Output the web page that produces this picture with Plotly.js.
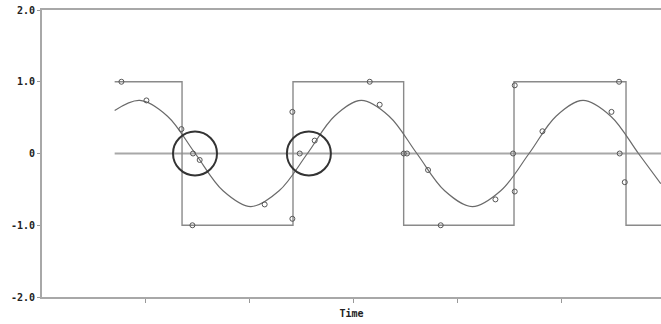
<!DOCTYPE html>
<html>
<head>
<meta charset="utf-8">
<script src="https://cdn.plot.ly/plotly-3.0.1.min.js"></script>
<style>
  html, body { margin: 0; padding: 0; background: #fff; }
  #chart { width: 661px; height: 324px; }
</style>
</head>
<body>
<div id="chart"></div>
<script>
// Square wave: step levels held from each switching time
const squareTimes  = [0.70, 1.349, 2.418, 3.484, 4.547, 5.626, 6.0];
const squareLevels = [1, -1, 1, -1, 1, -1, -1];

// Reference (zero) level
const zeroTimes  = [0.70, 6.0];
const zeroLevels = [0, 0];

// Fundamental sinusoid, read at eighth-period steps
const sineTimes = [0.700, 0.942, 1.209, 1.476, 1.744, 2.012, 2.284, 2.557, 2.817, 3.077,
                   3.344, 3.611, 3.879, 4.146, 4.419, 4.692, 4.952, 5.212, 5.479, 5.746, 5.961];
const sineValues = [0.60, 0.74, 0.52, 0, -0.52, -0.74, -0.52, 0, 0.52, 0.74,
                    0.52, 0, -0.52, -0.74, -0.52, 0, 0.52, 0.74, 0.52, 0, -0.42];

// Sample points marked along the signals
const sampleTimes = [0.765, 1.006, 1.343, 1.455, 1.519, 1.449, 2.145, 2.412, 2.412, 2.483,
                     2.627, 3.157, 3.253, 3.485, 3.516, 3.719, 3.841, 4.368, 4.554, 4.538,
                     4.554, 4.821, 5.486, 5.559, 5.565, 5.614];
const sampleValues = [1.0, 0.74, 0.34, 0, -0.09, -1.0, -0.71, -0.91, 0.58, 0,
                      0.18, 1.0, 0.68, 0, 0, -0.23, -1.0, -0.64, -0.53, 0,
                      0.95, 0.31, 0.58, 1.0, 0, -0.40];

// Highlighted zero crossings
const ringTimes  = [1.474, 2.571];
const ringValues = [0, 0];

// Axis labels
const yTickVals = [-2, -1, 0, 1, 2];
const yTickText = ["-2.0", "-1.0", "0", "1.0", "2.0"];
const xTickVals = [1, 2, 3, 4, 5];
const xTitle = "Time";

const traces = [
  {
    x: zeroTimes, y: zeroLevels, mode: "lines", type: "scatter",
    line: { color: "#a8a8a8", width: 2.2 }, hoverinfo: "skip"
  },
  {
    x: squareTimes, y: squareLevels, mode: "lines", type: "scatter",
    line: { color: "#8a8a8a", width: 1.4, shape: "hv" }, hoverinfo: "skip"
  },
  {
    x: sineTimes, y: sineValues, mode: "lines", type: "scatter",
    line: { color: "#6a6a6a", width: 1.2, shape: "spline", smoothing: 1 }, hoverinfo: "skip"
  },
  {
    x: sampleTimes, y: sampleValues, mode: "markers", type: "scatter",
    marker: { symbol: "circle-open", size: 5, color: "#555", line: { width: 1, color: "#555" } },
    hoverinfo: "skip"
  },
  {
    x: ringTimes, y: ringValues, mode: "markers", type: "scatter",
    marker: { symbol: "circle-open", size: 44, color: "#333", line: { width: 2, color: "#333" } },
    hoverinfo: "skip"
  }
];

const tickFont = { family: "DejaVu Sans Mono, monospace", size: 10, color: "#222", weight: 700 };

const layout = {
  width: 661, height: 324,
  margin: { l: 42, r: 0, t: 10, b: 27, pad: 0 },
  paper_bgcolor: "#ffffff",
  plot_bgcolor: "#ffffff",
  showlegend: false,
  xaxis: {
    range: [0, 5.963],
    showgrid: false, zeroline: false,
    showline: true, linecolor: "#a8a8a8", linewidth: 2, mirror: true,
    tickvals: xTickVals, ticktext: xTickVals.map(() => ""),
    ticks: "outside", ticklen: 4, tickwidth: 1, tickcolor: "#999",
    title: { text: xTitle, font: tickFont, standoff: 6 },
    automargin: false
  },
  yaxis: {
    range: [-2, 2],
    showgrid: false, zeroline: false,
    showline: true, linecolor: "#a8a8a8", linewidth: 2,
    tickvals: yTickVals, ticktext: yTickText,
    ticks: "outside", ticklen: 3, tickwidth: 1, tickcolor: "#999",
    tickfont: tickFont,
    automargin: false
  }
};

Plotly.newPlot("chart", traces, layout, { staticPlot: true, displayModeBar: false });
</script>
</body>
</html>
